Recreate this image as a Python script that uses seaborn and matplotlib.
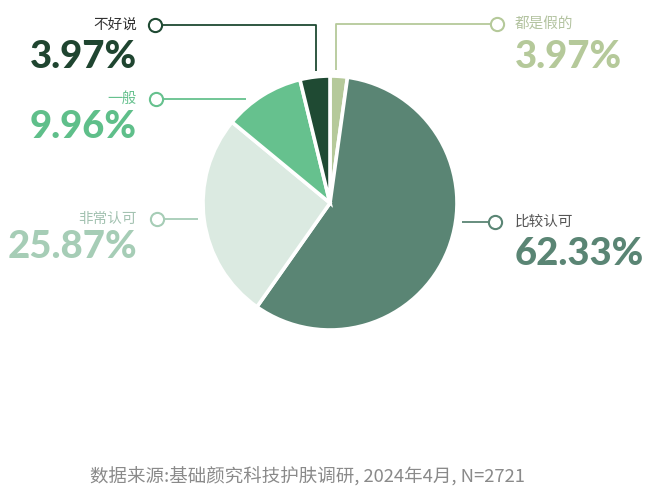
import numpy as np
import pandas as pd
import matplotlib
matplotlib.use("Agg")
import matplotlib.pyplot as plt
import seaborn as sns

# ========== 数据 ==========
# 饼图顺序：从正上方开始顺时针
categories = ['都是假的', '比较认可', '非常认可', '一般', '不好说']
pct_labels = ['3.97%', '62.33%', '25.87%', '9.96%', '3.97%']
# 扇区大小（按图中扇区角度估计）
shares = [2.2, 57.5, 26.2, 10.2, 3.8]

slice_colors = ['#b5c99a', '#5a8574', '#dbeae1', '#66c18e', '#1f4a33']
name_colors = ['#b3c3a0', '#555555', '#a3c2b1', '#66c18e', '#333333']
pct_colors = ['#b5c99a', '#5a8574', '#a6cdb6', '#5fbf8a', '#1f4530']

source_text = '数据来源:基础颜究科技护肤调研, 2024年4月, N=2721'

W, H = 660, 490


def fy(y):
    # 像素坐标（从上往下）转为坐标轴坐标
    return H - y


# ========== 绘图 ==========
sns.set_theme(style="white")
plt.rcParams['font.family'] = ['Noto Sans CJK SC', 'DejaVu Sans']

fig = plt.figure(figsize=(W / 100, H / 100), dpi=100)
ax = fig.add_axes([0, 0, 1, 1])
ax.set_xlim(0, W)
ax.set_ylim(0, H)
ax.axis('off')

palette = sns.color_palette(slice_colors)
ax.pie(shares, colors=palette, startangle=90, counterclock=False,
       center=(330, fy(203)), radius=127,
       wedgeprops=dict(edgecolor='white', linewidth=2.6))
ax.set_xlim(0, W)
ax.set_ylim(0, H)
ax.set_aspect('auto')

# 标注：(圆圈位置, 引线折点, 文字位置, 对齐方式, 百分比基线)
annot = {
    '都是假的': dict(circle=(497, 24), line=[(490, 24), (336, 24), (336, 70)],
                 tx=515, ty=24, ha='left', pb=68),
    '比较认可': dict(circle=(495, 222), line=[(488, 222), (462, 222)],
                 tx=515, ty=222, ha='left', pb=265),
    '非常认可': dict(circle=(157, 219), line=[(164, 219), (198, 219)],
                 tx=137, ty=219, ha='right', pb=258),
    '一般': dict(circle=(156, 99), line=[(163, 99), (246, 99)],
               tx=137, ty=99, ha='right', pb=138),
    '不好说': dict(circle=(155, 25), line=[(162, 25), (316, 25), (316, 71)],
                tx=137, ty=25, ha='right', pb=68),
}

for i, cat in enumerate(categories):
    a = annot[cat]
    lc = slice_colors[i] if cat != '非常认可' else '#a6cdb6'
    xs = [p[0] for p in a['line']]
    ys = [fy(p[1]) for p in a['line']]
    ax.plot(xs, ys, color=lc, lw=1.3, solid_capstyle='butt')
    ax.plot(a['circle'][0], fy(a['circle'][1]), marker='o', ms=9.5,
            mfc='white', mec=lc, mew=1.5)
    ax.text(a['tx'], fy(a['ty']), cat, ha=a['ha'], va='center',
            fontsize=10.5, color=name_colors[i])
    ax.text(a['tx'], fy(a['pb']), pct_labels[i], ha=a['ha'], va='baseline',
            fontsize=27.5, fontweight='black', family=['Lato', 'DejaVu Sans'],
            color=pct_colors[i])

ax.text(307, fy(477), source_text, ha='center', va='center',
        fontsize=13.3, color='#8a8a8a')

fig.savefig('out.png', dpi=100)
